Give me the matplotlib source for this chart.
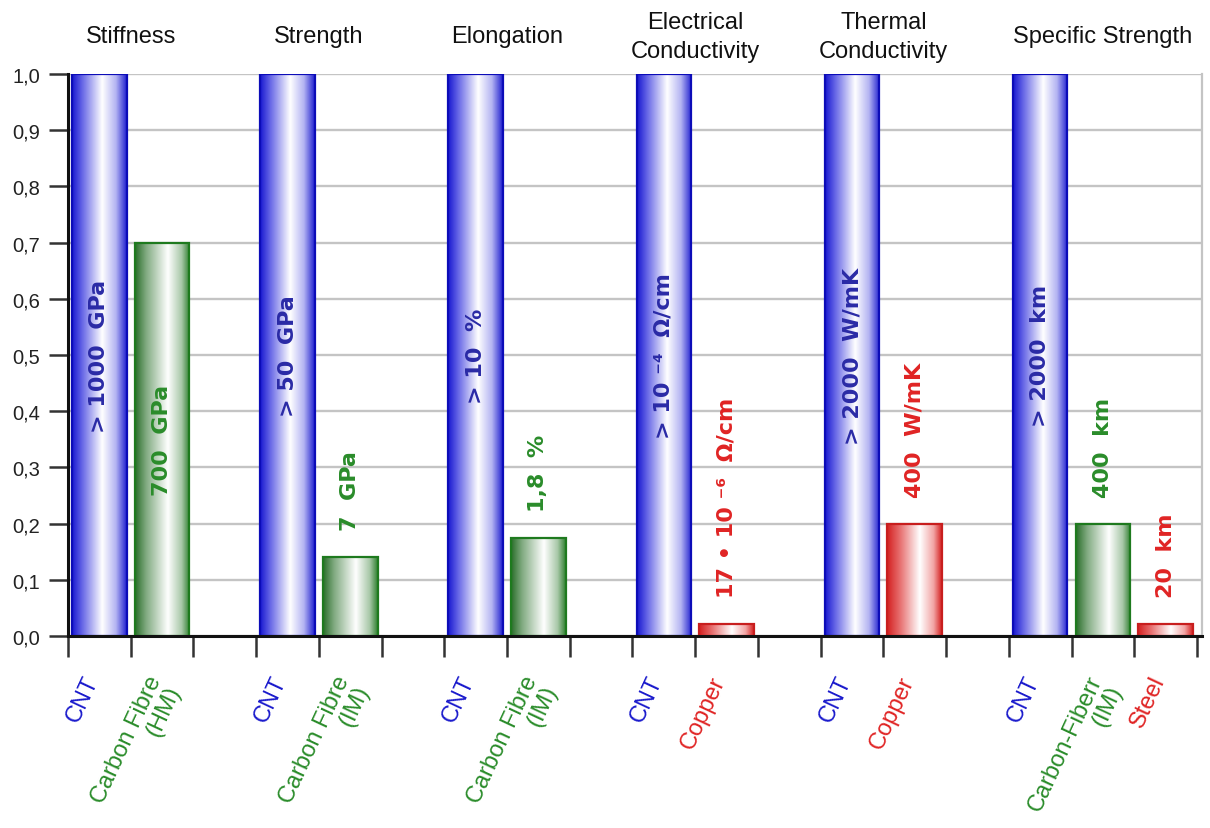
import numpy as np
import matplotlib
matplotlib.use("Agg")
from matplotlib import pyplot as plt
from matplotlib.colors import LinearSegmentedColormap

plt.rcParams['font.family'] = ['Liberation Sans', 'DejaVu Sans']

# data: 18 slots, empty slots separate the groups
categories = ["CNT", "Carbon Fibre\n(HM)", "",
              "CNT", "Carbon Fibre\n(IM)", "",
              "CNT", "Carbon Fibre\n(IM)", "",
              "CNT", "Copper", "",
              "CNT", "Copper", "",
              "CNT", "Carbon-Fiberr\n(IM)", "Steel"]
materials = ["cnt", "cf", "",
             "cnt", "cf", "",
             "cnt", "cf", "",
             "cnt", "cu", "",
             "cnt", "cu", "",
             "cnt", "cf", "cu"]
values = [1.0, 0.70, 0,
          1.0, 0.14, 0,
          1.0, 0.175, 0,
          1.0, 0.022, 0,
          1.0, 0.20, 0,
          1.0, 0.20, 0.022]
bar_labels = ["> 1000  GPa", "700  GPa", "",
              "> 50  GPa", "7  GPa", "",
              "> 10  %", "1,8  %", "",
              "> 10 \u207b\u2074  \u03a9/cm", "17 \u2022 10 \u207b\u2076  \u03a9/cm", "",
              "> 2000  W/mK", "400  W/mK", "",
              "> 2000  km", "400  km", "20  km"]
group_titles = ["Stiffness", "Strength", "Elongation",
                "Electrical\nConductivity", "Thermal\nConductivity", "Specific Strength"]
group_slots = [[0, 1], [3, 4], [6, 7], [9, 10], [12, 13], [15, 16, 17]]
yticks = [0.0, 0.1, 0.2, 0.3, 0.4, 0.5, 0.6, 0.7, 0.8, 0.9, 1.0]

# colours per material
edge_col = {"cnt": "#0c0cb8", "cf": "#1e7a1e", "cu": "#c81e1e"}
text_col = {"cnt": "#2a2aa6", "cf": "#2a8c2a", "cu": "#e02424"}
tick_col = {"cnt": "#1a1acc", "cf": "#2a8c2a", "cu": "#e02424"}
cmaps = {
    "cnt": LinearSegmentedColormap.from_list("b", [(0, "#1818d0"), (0.18, "#6464e6"), (0.55, "#ffffff"),
                                                    (0.8, "#b4b4f2"), (1, "#2020d0")]),
    "cf": LinearSegmentedColormap.from_list("g", [(0, "#2a6e2a"), (0.2, "#80aa80"), (0.6, "#ffffff"),
                                                   (0.85, "#a8c8a8"), (1, "#2f7f2f")]),
    "cu": LinearSegmentedColormap.from_list("r", [(0, "#d42020"), (0.25, "#e87474"), (0.6, "#ffffff"),
                                                   (0.85, "#f2a4a4"), (1, "#d42020")]),
}

fig = plt.figure(figsize=(12.1, 8.29), dpi=100)
ax = fig.add_axes([68 / 1210, 1 - 637 / 829, (1202 - 68) / 1210, (637 - 75) / 829])

width = 0.87
x = np.arange(len(categories))
grad = np.linspace(0, 1, 256).reshape(1, -1)

for i, (m, v) in enumerate(zip(materials, values)):
    if m == "":
        continue
    ax.imshow(grad, extent=[i - width / 2, i + width / 2, 0, v], aspect='auto',
              cmap=cmaps[m], zorder=2, interpolation='bilinear')
    ax.bar(i, v, width, fill=False, edgecolor=edge_col[m], linewidth=1.6, zorder=3)
    lab = bar_labels[i]
    if v > 0.5:
        ax.text(i, v / 2, lab, rotation=90, ha='center', va='center', color=text_col[m],
                fontsize=16, fontweight='bold', family=['DejaVu Sans'], zorder=4)
    else:
        ax.text(i, v + 0.048, lab, rotation=90, ha='center', va='bottom', color=text_col[m],
                fontsize=16, fontweight='bold', family=['DejaVu Sans'], zorder=4)

    # category label under the bar
    ax.annotate(categories[i], xy=(i, 0), xycoords=('data', 'axes fraction'),
                xytext=(-12, -26), textcoords='offset points', rotation=65,
                rotation_mode='anchor', ha='right', va='top', multialignment='right',
                color=tick_col[m], fontsize=17, linespacing=1.0)

# group titles
for title, slots in zip(group_titles, group_slots):
    ax.annotate(title, xy=(np.mean(slots), 1), xycoords=('data', 'axes fraction'),
                xytext=(0, 27), textcoords='offset points', ha='center', va='center',
                fontsize=17, color='#111111', linespacing=1.45)

ax.set_xlim(-0.5, 17.58)
ax.set_ylim(0, 1.0)

ax.set_yticks(yticks)
ax.set_yticklabels([f"{t:.1f}".replace(".", ",") for t in yticks])
ax.tick_params(axis='y', length=14, width=1.8, color='#333333', pad=6, labelsize=14.5,
               labelcolor='#222222')
ax.set_xticks(x, [""] * len(x))
ax.set_xticks(np.arange(-0.5, 18, 1), minor=True)
ax.tick_params(axis='x', which='major', length=0)
ax.tick_params(axis='x', which='minor', length=15, width=1.8, color='#333333')

ax.yaxis.grid(True, color='#c4c4c4', linewidth=1.7)
ax.set_axisbelow(True)
for s in ['left', 'bottom']:
    ax.spines[s].set_color('#111111')
    ax.spines[s].set_linewidth(2.2)
    ax.spines[s].set_zorder(5)
ax.spines['top'].set_visible(False)
ax.spines['right'].set_color('#c4c4c4')
ax.spines['right'].set_linewidth(1.6)

plt.savefig("out.png", dpi=100)
